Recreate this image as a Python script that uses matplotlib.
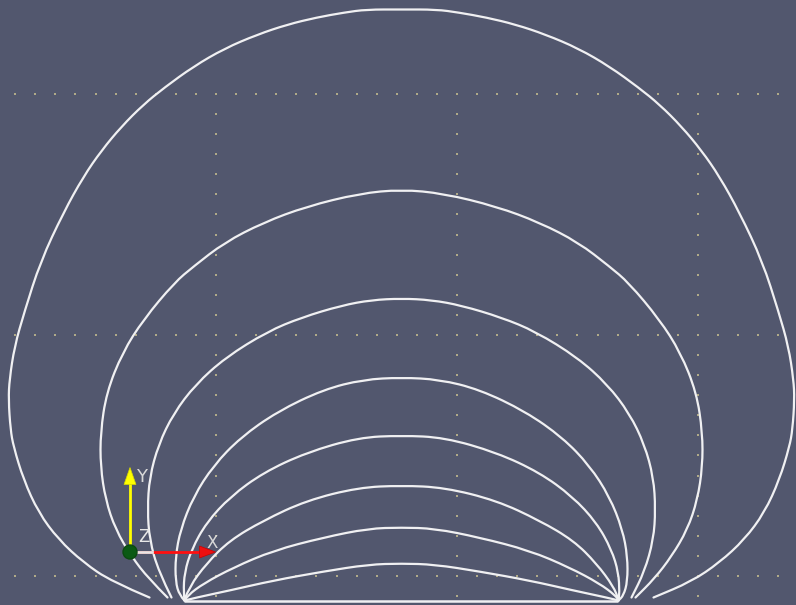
import numpy as np
import matplotlib
matplotlib.use("Agg")
import matplotlib.pyplot as plt
from matplotlib.path import Path
from matplotlib.patches import PathPatch, Circle, Polygon

# ---- field lines: right half (x from centre, height above axis); mirrored for left half
c1_x = [0, 35, 57, 85, 114, 144, 177, 208, 237, 258, 280, 300, 318, 338, 361, 377, 387, 392, 393, 391, 388, 378, 363, 343, 318, 290, 252]
c1_y = [592, 592, 589, 584, 577, 567, 553, 535, 514, 497, 475, 451, 425, 389, 340, 290, 255, 222, 202, 172, 155, 122, 89, 62, 39, 20, 4]
c2_x = [0, 42, 95, 138, 177, 208, 227, 258, 279, 295, 301, 301, 296, 286, 270, 253, 234]
c2_y = [412, 408, 395, 379, 359, 335, 319, 282, 249, 209, 169, 135, 102, 72, 45, 23, 4]
c3_x = [0, 30, 60, 100, 134, 176, 206, 228, 243, 252, 254, 252, 243, 230]
c3_y = [303, 301.5, 296, 284, 270, 244, 217, 188, 157, 124, 92, 62, 30, 4]
c4_x = [0, 38, 78, 124, 161, 188, 208, 221, 226, 226, 222, 217]
c4_y = [224, 222, 212, 190, 164, 136, 105, 72, 45, 20, 6, 1]
c5_x = [0, 43, 95, 138, 171, 195, 210, 217, 218, 217]
c5_y = [166, 164, 149, 129, 105, 79, 52, 29, 9, 1]
c6_x = [0, 43, 95, 138, 172, 195, 212, 217]
c6_y = [116, 114, 101, 81, 61, 38, 15, 2]
c7_x = [0, 33, 78, 128, 168, 198, 214, 217]
c7_y = [74, 73, 64, 51, 34, 18, 6, 1]
c8_x = [0, 33, 78, 128, 172, 205, 217]
c8_y = [38, 37, 30, 21, 11, 4, 1]
curves = [(c1_x, c1_y), (c2_x, c2_y), (c3_x, c3_y), (c4_x, c4_y),
          (c5_x, c5_y), (c6_x, c6_y), (c7_x, c7_y), (c8_x, c8_y)]

charges_x = [-218, 216]          # the two source points on the axis
grid_x = [-185.5, 55.5, 296.5]   # dotted grid lines
grid_y = [25.5, 266.5, 507.5]
grid_step = 20.08

BG = "#52576e"
LINE = "#f0f0f2"

fig = plt.figure(figsize=(7.96, 6.05), dpi=100)
fig.patch.set_facecolor(BG)
ax = fig.add_axes([0, 0, 1, 1])
ax.set_facecolor(BG)
ax.set_xlim(-401.5, 394.5)
ax.set_ylim(-3.5, 601.5)
ax.set_axis_off()

# dotted grid
for gx in grid_x:
    ys = grid_y[2] - grid_step * np.arange(0, 40)
    ys = ys[ys > -3]
    ax.scatter(np.full(ys.shape, gx), ys, s=2.2, marker="s", color="#b0aa88",
               linewidths=0, zorder=1)
for gy in grid_y:
    xs = grid_x[1] + grid_step * np.arange(-30, 30)
    xs = xs[(xs > -400) & (xs < 395)]
    ax.scatter(xs, np.full(xs.shape, gy), s=2.2, marker="s", color="#b0aa88",
               linewidths=0, zorder=1)


def smooth_path(xs, ys):
    verts = [(xs[0], ys[0])]
    codes = [Path.MOVETO]
    n = len(xs)
    for i in range(1, n - 1):
        mid = ((xs[i] + xs[i + 1]) / 2.0, (ys[i] + ys[i + 1]) / 2.0)
        verts += [(xs[i], ys[i]), mid]
        codes += [Path.CURVE3, Path.CURVE3]
    verts.append((xs[-1], ys[-1]))
    codes.append(Path.LINETO)
    return Path(verts, codes)


for cx, cy in curves:
    xs = [-v for v in cx[::-1]] + list(cx[1:])
    ys = list(cy[::-1]) + list(cy[1:])
    p = smooth_path(xs, ys)
    ax.add_patch(PathPatch(p, facecolor="none", edgecolor=LINE, lw=1.6,
                           capstyle="round", joinstyle="round", zorder=3))

# straight line along the axis between the sources
ax.plot(charges_x, [0.3, 0.3], color=LINE, lw=1.8, zorder=3, solid_capstyle="butt")

# ---- orientation triad
ox, oy = -271.5, 49.5
ax.plot([ox, ox], [oy, 118], color="#ffff00", lw=2.0, zorder=5)
ax.add_patch(Polygon([[ox - 6, 117], [ox + 6, 117], [ox, 134]], closed=True,
                     facecolor="#ffff00", edgecolor="#d8d800", lw=0.5, zorder=5))
ax.plot([ox, -201], [oy, oy], color="#ff1010", lw=2.0, zorder=5)
ax.add_patch(Polygon([[-202, oy - 6], [-202, oy + 6], [-186, oy]], closed=True,
                     facecolor="#ee1010", edgecolor="#cc0000", lw=0.5, zorder=5))
ax.plot([ox + 4, -250], [oy, oy], color="#e6e6e6", lw=2.0, zorder=5)
ax.add_patch(Circle((ox, oy), 7, facecolor="#0b5a14", edgecolor="#0b4a10", zorder=6))
ax.text(-265, 124, "Y", color="#d8d8d8", fontsize=13, ha="left", va="center",
        family="DejaVu Sans", zorder=6)
ax.text(-189, 58, "X", color="#d8d8d8", fontsize=12, ha="center", va="center",
        family="DejaVu Sans", zorder=6)
ax.text(-258, 64, "Z", color="#e8e8e8", fontsize=12, ha="center", va="center",
        family="DejaVu Sans", zorder=6)

fig.savefig("out.png", dpi=100, facecolor=BG)
